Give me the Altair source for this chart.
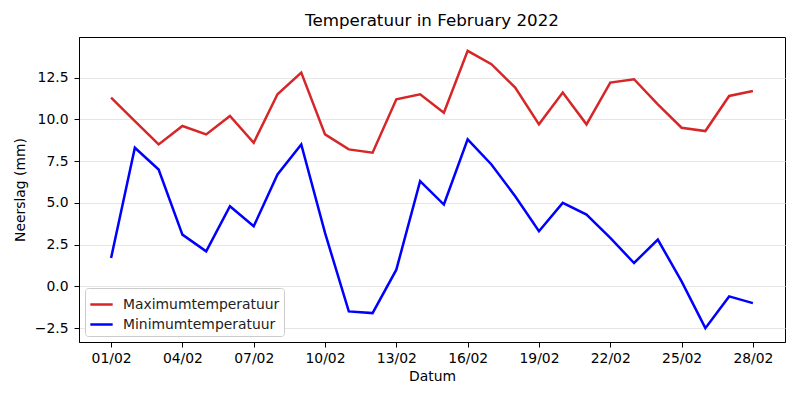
import altair as alt
import pandas as pd

dagen = list(range(1, 29))
max_temp = [11.3, 9.9, 8.5, 9.6, 9.1, 10.2, 8.6, 11.5, 12.8, 9.1, 8.2, 8.0, 11.2, 11.5,
            10.4, 14.1, 13.3, 11.9, 9.7, 11.6, 9.7, 12.2, 12.4, 10.9, 9.5, 9.3, 11.4, 11.7]
min_temp = [1.7, 8.3, 7.0, 3.1, 2.1, 4.8, 3.6, 6.7, 8.5, 3.2, -1.5, -1.6, 1.0, 6.3,
            4.9, 8.8, 7.3, 5.4, 3.3, 5.0, 4.3, 2.9, 1.4, 2.8, 0.3, -2.5, -0.6, -1.0]
reeksen = ["Maximumtemperatuur", "Minimumtemperatuur"]
kleuren = ["#d62728", "#0000ff"]
x_ticks = [1, 4, 7, 10, 13, 16, 19, 22, 25, 28]
y_ticks = [-2.5, 0.0, 2.5, 5.0, 7.5, 10.0, 12.5]

data = pd.DataFrame({
    "dag": dagen * 2,
    "temp": max_temp + min_temp,
    "reeks": [reeksen[0]] * len(dagen) + [reeksen[1]] * len(dagen),
})

font = "DejaVu Sans"

chart = (
    alt.Chart(data)
    .mark_line(strokeWidth=2.5)
    .encode(
        x=alt.X(
            "dag:Q",
            title="Datum",
            scale=alt.Scale(domain=[1 - 1.35, 28 + 1.35], nice=False, zero=False),
            axis=alt.Axis(
                values=x_ticks,
                labelExpr="(datum.value < 10 ? '0' : '') + datum.value + '/02'",
                grid=False,
                tickSize=5,
                tickColor="black",
                domainColor="black",
                labelPadding=4,
                titlePadding=5,
            ),
        ),
        y=alt.Y(
            "temp:Q",
            title="Neerslag (mm)",
            scale=alt.Scale(domain=[-3.33, 14.93], nice=False, zero=False),
            axis=alt.Axis(
                values=y_ticks,
                format=".1f",
                labelExpr="replace(datum.label, '-', '\u2212')",
                grid=True,
                gridColor="#e6e6e6",
                tickSize=5,
                tickColor="black",
                domainColor="black",
                labelPadding=6,
                titlePadding=7,
            ),
        ),
        color=alt.Color(
            "reeks:N",
            scale=alt.Scale(domain=reeksen, range=kleuren),
            legend=alt.Legend(
                title=None,
                orient="bottom-left",
                symbolType="stroke",
                symbolStrokeWidth=2.5,
                symbolSize=500,
                labelFontSize=13.9,
                labelFont=font,
                labelColor="#222222",
                labelOffset=9,
                fillColor="white",
                strokeColor="#cccccc",
                cornerRadius=3,
                padding=4,
                rowPadding=-3,
                offset=6,
            ),
        ),
    )
    .properties(
        width=706,
        height=305,
        title=alt.TitleParams("Temperatuur in February 2022", fontSize=16.7, font=font,
                              fontWeight="normal", color="black", offset=7),
        autosize=alt.AutoSizeParams(type="none"),
        padding={"left": 71, "top": 29, "right": 7, "bottom": 50},
    )
    .configure_view(stroke="black", strokeWidth=1)
    .configure_axis(
        labelFont=font,
        titleFont=font,
        labelFontSize=13.9,
        titleFontSize=13.9,
        titleFontWeight="normal",
        labelColor="black",
        titleColor="black",
    )
)

chart.save("out.html", embed_options={"renderer": "svg", "actions": False})
